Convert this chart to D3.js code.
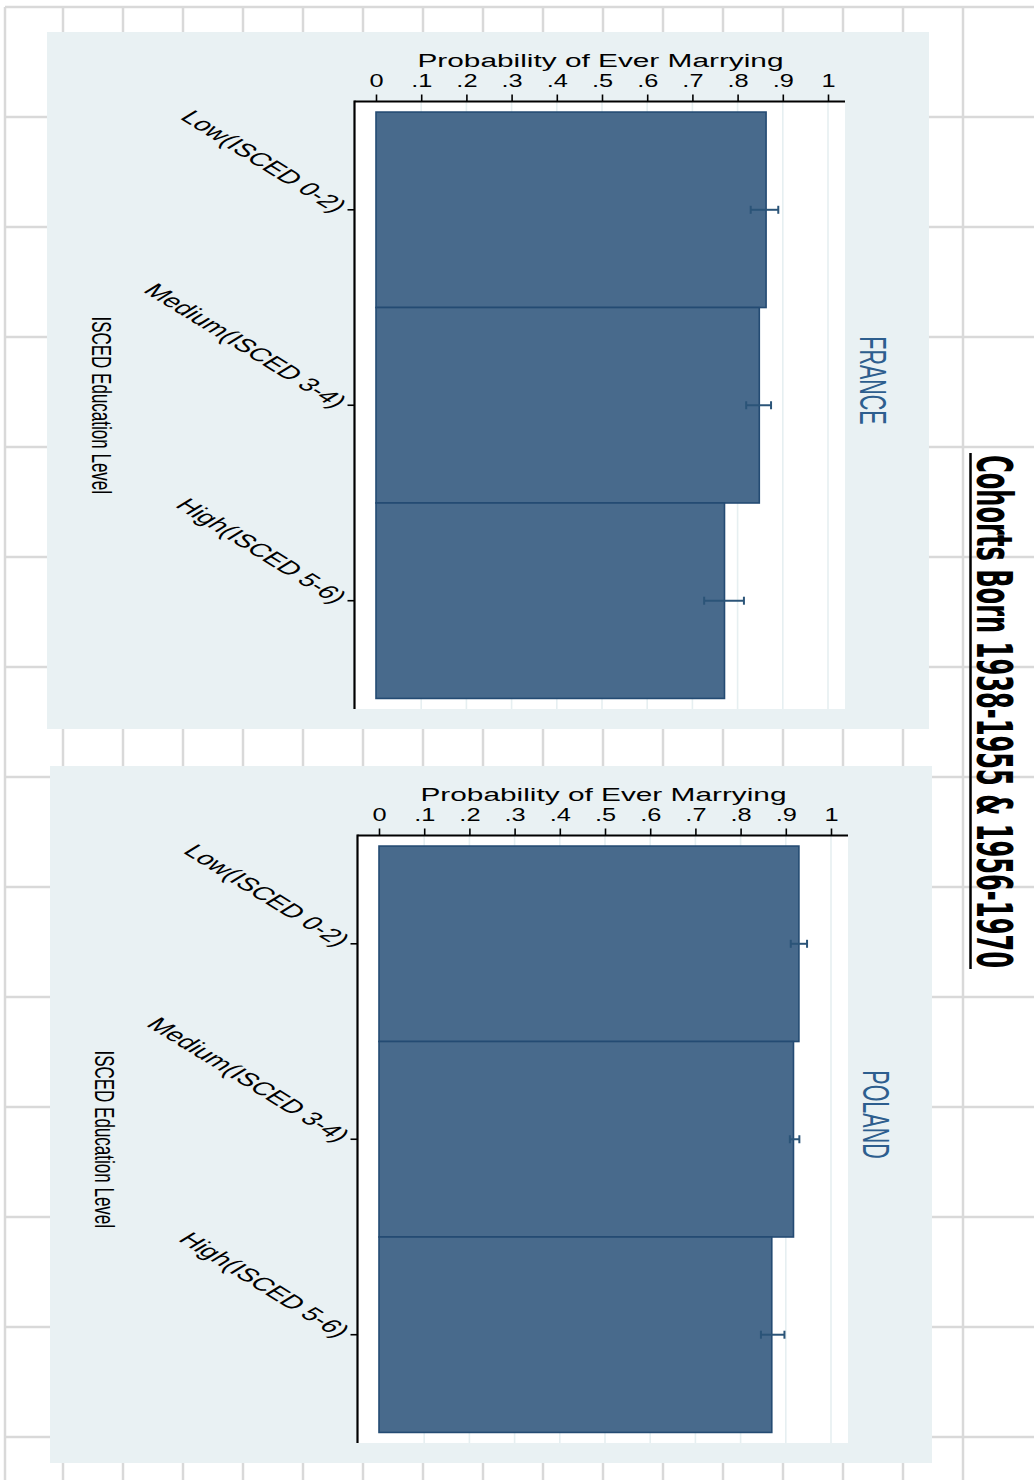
<!DOCTYPE html>
<html>
<head>
<meta charset="utf-8">
<script src="https://cdn.jsdelivr.net/npm/d3@7"></script>
<style>
  html, body { margin: 0; padding: 0; background: #ffffff; }
  svg { display: block; }
</style>
</head>
<body>
<script>
// ---- data ----
const categories = ["Low(ISCED 0-2)", "Medium(ISCED 3-4)", "High(ISCED 5-6)"];
const countries = ["FRANCE", "POLAND"];

const franceProb = [0.863, 0.848, 0.771];
const franceLow  = [0.829, 0.819, 0.726];
const franceHigh = [0.890, 0.874, 0.814];

const polandProb = [0.929, 0.917, 0.869];
const polandLow  = [0.911, 0.909, 0.845];
const polandHigh = [0.947, 0.930, 0.897];

const xTicks = [0, 0.1, 0.2, 0.3, 0.4, 0.5, 0.6, 0.7, 0.8, 0.9, 1];
const xTickLabels = ["0", ".1", ".2", ".3", ".4", ".5", ".6", ".7", ".8", ".9", "1"];
const xTitle = "Probability of Ever Marrying";
const yTitle = "ISCED Education Level";
const mainTitle = "Cohorts Born 1938-1955 & 1956-1970";

// ---- page ----
const W = 1034, H = 1480;
const FONT = "'Liberation Sans', Arial, Helvetica, sans-serif";
const svg = d3.select("body").append("svg").attr("width", W).attr("height", H);

// worksheet cell grid behind the charts
const sheet = svg.append("g").attr("stroke", "#d9d9d9").attr("stroke-width", 2.5);
const colLines = [5].concat(d3.range(63, 964, 60));
const rowLines = d3.range(7, H, 110);
sheet.selectAll("line.col").data(colLines).join("line")
  .attr("x1", d => d).attr("x2", d => d).attr("y1", 7).attr("y2", H);
sheet.selectAll("line.row").data(rowLines).join("line")
  .attr("x1", 5).attr("x2", W).attr("y1", d => d).attr("y2", d => d);

// ---- one Stata-style bar panel ----
function drawPanel(origin, country, prob, lo, hi) {
  const pw = 882, ph = 697;
  const plot = { l: 307.5, r: 798, t: 69.5, b: 677 };
  const g = svg.append("g").attr("transform", `translate(${origin[0]},${origin[1]})`);

  g.append("rect").attr("width", pw).attr("height", ph).attr("fill", "#e9f1f3");
  g.append("rect")
    .attr("x", plot.l).attr("y", plot.t)
    .attr("width", plot.r - plot.l).attr("height", plot.b - plot.t)
    .attr("fill", "#ffffff");

  const x = d3.scaleLinear().domain([0, 1]).range([329, 781]);
  const y = d3.scaleBand().domain(categories).range([plot.t, plot.b])
    .paddingInner(0).paddingOuter(0.054);

  // grid lines at tick values
  g.append("g").selectAll("line").data(xTicks.slice(1)).join("line")
    .attr("x1", d => x(d)).attr("x2", d => x(d))
    .attr("y1", plot.t).attr("y2", plot.b)
    .attr("stroke", "#e6eff1").attr("stroke-width", 1.6);

  // bars
  g.append("g").selectAll("rect").data(categories).join("rect")
    .attr("x", x(0))
    .attr("y", d => y(d))
    .attr("width", (d, i) => x(prob[i]) - x(0))
    .attr("height", y.bandwidth())
    .attr("fill", "#486a8c")
    .attr("stroke", "#244b73").attr("stroke-width", 1.6);

  // confidence interval caps
  const ci = g.append("g").attr("stroke", "#2b5478").attr("stroke-width", 2);
  categories.forEach((c, i) => {
    const cy = y(c) + y.bandwidth() / 2;
    ci.append("line").attr("x1", x(lo[i])).attr("x2", x(hi[i])).attr("y1", cy).attr("y2", cy);
    [lo[i], hi[i]].forEach(v => {
      ci.append("line").attr("x1", x(v)).attr("x2", x(v)).attr("y1", cy - 4).attr("y2", cy + 4);
    });
  });

  // top value axis
  const ax = g.append("g").attr("transform", `translate(0,${plot.t})`)
    .call(d3.axisTop(x).tickValues(xTicks).tickFormat((d, i) => xTickLabels[i])
      .tickSize(7).tickSizeOuter(0));
  ax.select(".domain").remove();
  ax.selectAll(".tick line").attr("stroke", "#000").attr("stroke-width", 1.6);
  ax.selectAll(".tick text")
    .attr("y", -14.5).attr("dy", "0em")
    .attr("font-family", FONT).attr("font-size", 17.5).attr("fill", "#000")
    .attr("transform", "scale(1.45,1)");
  g.append("line").attr("x1", plot.l).attr("x2", plot.r).attr("y1", plot.t).attr("y2", plot.t)
    .attr("stroke", "#000").attr("stroke-width", 2);

  // left category axis
  const ay = g.append("g").attr("transform", `translate(${plot.l},0)`)
    .call(d3.axisLeft(y).tickSize(7).tickSizeOuter(0).tickFormat(""));
  ay.select(".domain").remove();
  ay.selectAll(".tick line").attr("stroke", "#000").attr("stroke-width", 1.6);
  g.append("line").attr("x1", plot.l).attr("x2", plot.l).attr("y1", plot.t - 1).attr("y2", plot.b)
    .attr("stroke", "#000").attr("stroke-width", 2.2);

  // slanted category labels
  g.append("g").selectAll("text").data(categories).join("text")
    .attr("transform", d => `translate(${plot.l - 13},${y(d) + y.bandwidth() / 2 - 1}) scale(1.63,1) rotate(45)`)
    .attr("text-anchor", "end").attr("dy", "0.35em")
    .attr("font-family", FONT).attr("font-size", 18.5).attr("fill", "#000")
    .text(d => d);

  // axis titles
  g.append("text")
    .attr("x", 553.5).attr("y", 35)
    .attr("text-anchor", "middle")
    .attr("font-family", FONT).attr("font-size", 18).attr("fill", "#000")
    .attr("textLength", 366).attr("lengthAdjust", "spacingAndGlyphs")
    .text(xTitle);

  g.append("text")
    .attr("transform", `translate(45,${(plot.t + plot.b) / 2}) scale(1.65,1) rotate(90)`)
    .attr("text-anchor", "middle")
    .attr("font-family", FONT).attr("font-size", 17).attr("fill", "#000")
    .text(yTitle);

  // country label
  g.append("text")
    .attr("transform", `translate(813,${ph / 2}) scale(1.7,1) rotate(90)`)
    .attr("text-anchor", "middle")
    .attr("font-family", FONT).attr("font-size", 21.5).attr("fill", "#2d5e8e")
    .text(country);
}

drawPanel([47, 32], countries[0], franceProb, franceLow, franceHigh);
drawPanel([50, 766], countries[1], polandProb, polandLow, polandHigh);

// ---- overall heading, set vertically and underlined ----
svg.append("text")
  .attr("transform", "translate(977,455) scale(1.7,1) rotate(90)")
  .attr("text-anchor", "start")
  .attr("font-family", "'Liberation Sans Narrow', 'DejaVu Sans Condensed', sans-serif")
  .attr("font-weight", "bold").attr("font-size", 29).attr("fill", "#000")
  .attr("textLength", 513).attr("lengthAdjust", "spacingAndGlyphs")
  .text(mainTitle);
svg.append("line")
  .attr("x1", 970.5).attr("x2", 970.5).attr("y1", 453).attr("y2", 969)
  .attr("stroke", "#000").attr("stroke-width", 2.5);
</script>
</body>
</html>
